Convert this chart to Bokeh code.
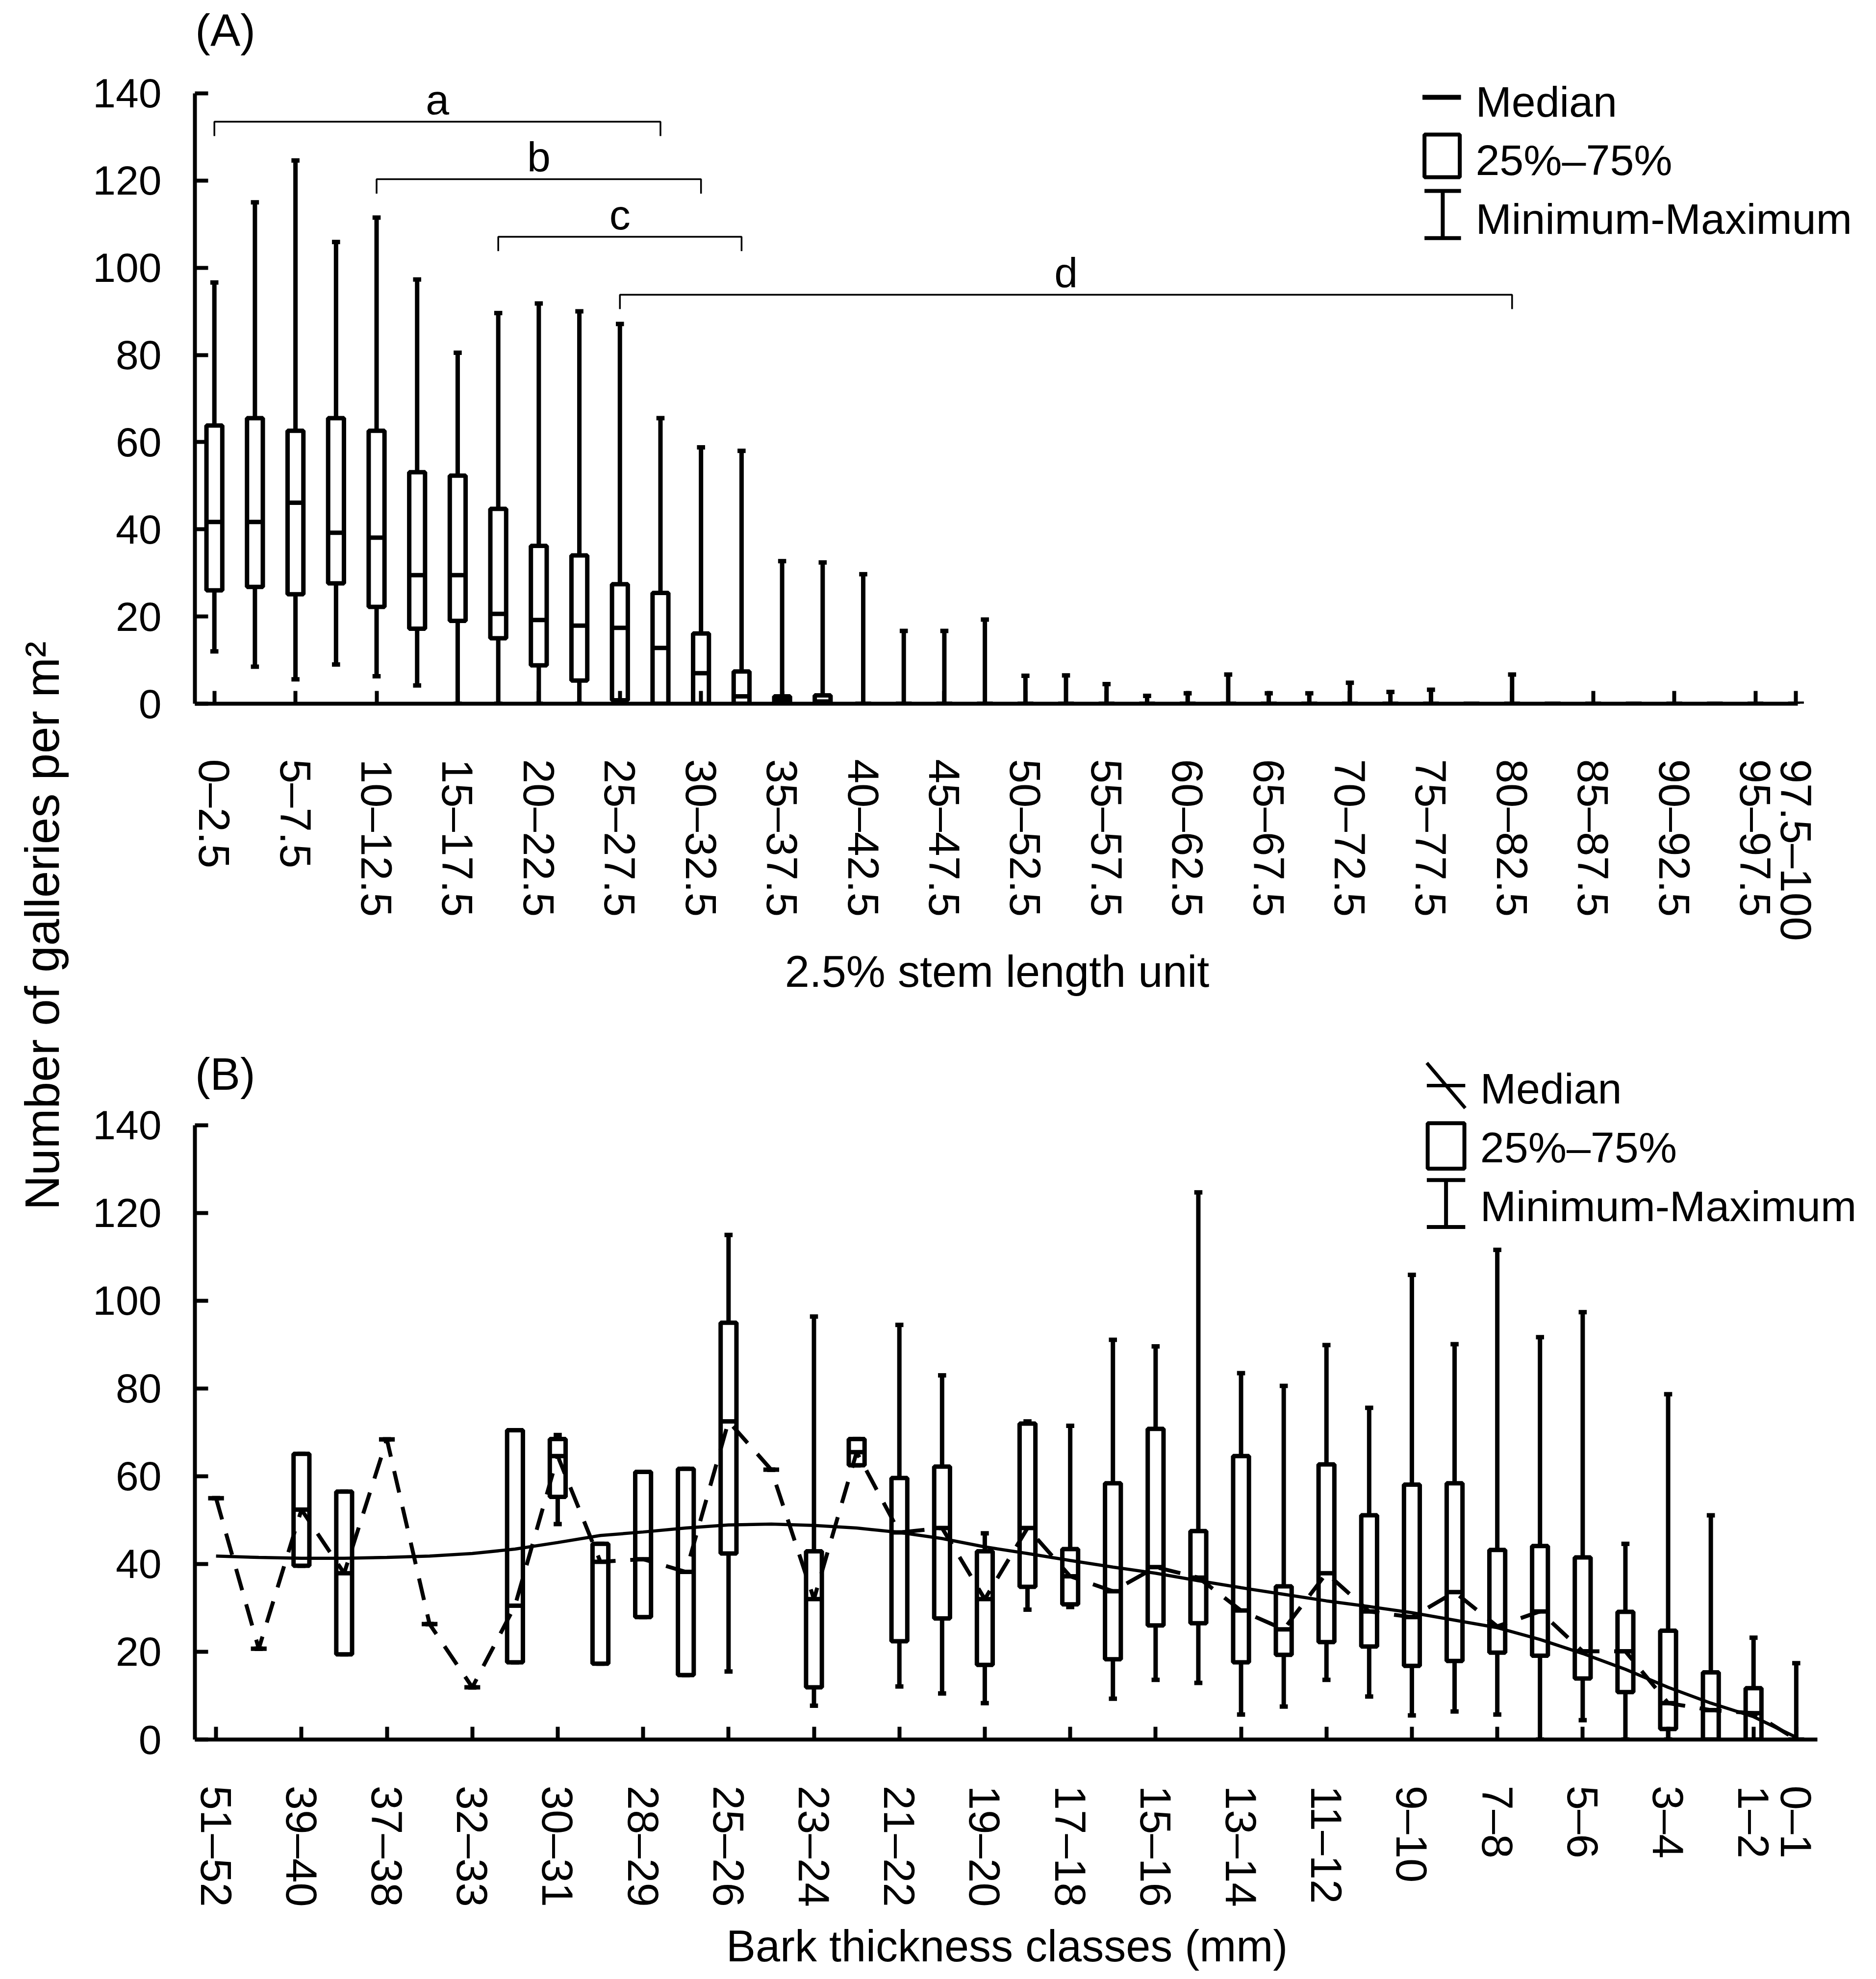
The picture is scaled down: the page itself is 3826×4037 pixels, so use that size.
from math import pi
from bokeh.plotting import figure
from bokeh.models import FixedTicker, Label, Range1d
from bokeh.layouts import row, column
from bokeh.embed import file_html
from bokeh.resources import INLINE
from bokeh.core.properties import value

FONT = "Liberation Sans"

# ---------------- Panel A data: 2.5% stem length units ----------------
stem_units = ["0–2.5", "2.5–5", "5–7.5", "7.5–10", "10–12.5", "12.5–15", "15–17.5", "17.5–20",
              "20–22.5", "22.5–25", "25–27.5", "27.5–30", "30–32.5", "32.5–35", "35–37.5", "37.5–40",
              "40–42.5", "42.5–45", "45–47.5", "47.5–50", "50–52.5", "52.5–55", "55–57.5", "57.5–60",
              "60–62.5", "62.5–65", "65–67.5", "67.5–70", "70–72.5", "72.5–75", "75–77.5", "77.5–80",
              "80–82.5", "82.5–85", "85–87.5", "87.5–90", "90–92.5", "92.5–95", "95–97.5", "97.5–100"]
stem_max = [96.6, 115.0, 124.6, 105.9, 111.5, 97.3, 80.5, 89.6, 91.8, 90.0,
            87.1, 65.5, 58.8, 58.0, 32.7, 32.4, 29.7, 16.7, 16.7, 19.3,
            6.4, 6.5, 4.5, 1.8, 2.4, 6.7, 2.4, 2.4, 4.8, 2.7,
            3.2, 0.0, 6.7, 0.0, 0.0, 0.0, 0.0, 0.0, 0.0, 0.0]
stem_q3 = [63.8, 65.5, 62.6, 65.5, 62.6, 53.1, 52.3, 44.7, 36.2, 34.0,
           27.4, 25.4, 16.1, 7.4, 1.7, 1.9, 0, 0, 0, 0,
           0, 0, 0, 0, 0, 0, 0, 0, 0, 0, 0, 0, 0, 0, 0, 0, 0, 0, 0, 0]
stem_med = [41.7, 41.7, 46.1, 39.2, 38.1, 29.5, 29.5, 20.6, 19.2, 17.9,
            17.4, 12.8, 7.0, 1.7, 0.7, 0.5, 0, 0, 0, 0,
            0, 0, 0, 0, 0, 0, 0, 0, 0, 0, 0, 0, 0, 0, 0, 0, 0, 0, 0, 0]
stem_q1 = [26.0, 26.8, 25.1, 27.6, 22.2, 17.2, 19.0, 15.0, 8.8, 5.3,
           0.8, 0, 0, 0, 0, 0, 0, 0, 0, 0,
           0, 0, 0, 0, 0, 0, 0, 0, 0, 0, 0, 0, 0, 0, 0, 0, 0, 0, 0, 0]
stem_min = [12.0, 8.5, 5.6, 9.0, 6.3, 4.2, 0, 0, 0, 0,
            0, 0, 0, 0, 0, 0, 0, 0, 0, 0,
            0, 0, 0, 0, 0, 0, 0, 0, 0, 0, 0, 0, 0, 0, 0, 0, 0, 0, 0, 0]

bracket_labels = ["a", "b", "c", "d"]
bracket_start = [0, 4, 7, 10]
bracket_end = [11, 12, 13, 32]
bracket_level = [133.5, 120.3, 107.1, 93.8]

# ---------------- Panel B data: bark thickness classes ----------------
bark_classes = ["51–52", "40–41", "39–40", "38–39", "37–38", "33–34", "32–33", "31–32",
                "30–31", "29–30", "28–29", "26–27", "25–26", "24–25", "23–24", "22–23",
                "21–22", "20–21", "19–20", "18–19", "17–18", "16–17", "15–16", "14–15",
                "13–14", "12–13", "11–12", "10–11", "9–10", "8–9", "7–8", "6–7",
                "5–6", "4–5", "3–4", "2–3", "1–2", "0–1"]
bark_max = [55.0, 20.7, 65.1, 56.5, 68.4, 26.3, 11.9, 70.5, 69.4, 44.6,
            61.0, 61.7, 115.0, 61.5, 96.4, 68.5, 94.5, 83.0, 47.0, 72.5,
            71.5, 91.1, 89.6, 124.7, 83.5, 80.6, 89.9, 75.6, 105.9, 90.1,
            111.6, 91.7, 97.4, 44.6, 78.7, 51.1, 23.2, 17.4]
bark_q3 = [55.0, 20.7, 65.1, 56.5, 68.4, 26.3, 11.9, 70.5, 68.5, 44.6,
           61.0, 61.7, 95.0, 61.5, 42.9, 68.5, 59.6, 62.2, 42.9, 72.0,
           43.4, 58.4, 70.8, 47.5, 64.6, 34.9, 62.7, 51.1, 58.1, 58.4,
           43.2, 44.1, 41.5, 29.1, 24.8, 15.3, 11.7, 0.0]
bark_med = [55.0, 20.7, 52.4, 37.9, 68.4, 26.3, 11.9, 30.5, 64.6, 40.5,
            41.1, 38.2, 72.5, 61.5, 32.0, 65.5, 47.2, 48.2, 32.0, 48.2,
            37.2, 33.8, 39.3, 36.9, 29.4, 25.1, 37.9, 29.2, 27.9, 33.6,
            25.8, 29.2, 20.1, 20.1, 8.3, 6.7, 6.0, 0.0]
bark_q1 = [55.0, 20.7, 39.6, 19.4, 68.4, 26.3, 11.9, 17.6, 55.3, 17.3,
           27.9, 14.7, 42.4, 61.5, 11.9, 62.5, 22.4, 27.6, 17.0, 34.8,
           30.8, 18.3, 26.0, 26.5, 17.6, 19.3, 22.2, 21.2, 16.8, 17.9,
           19.8, 19.1, 13.9, 10.8, 2.4, 0.0, 0.0, 0.0]
bark_min = [55.0, 20.7, 39.6, 19.4, 68.4, 26.3, 11.9, 17.6, 49.1, 17.3,
            27.9, 14.7, 15.5, 61.5, 7.7, 62.5, 12.1, 10.5, 8.3, 29.6,
            30.2, 9.3, 13.6, 12.9, 5.7, 7.5, 13.6, 9.8, 5.5, 6.4,
            5.7, 0.0, 4.4, 0.0, 0.0, 0.0, 0.0, 0.0]
bark_trend = [41.8, 41.5, 41.3, 41.3, 41.5, 41.8, 42.4, 43.4, 44.9, 46.5,
              47.3, 48.2, 48.9, 49.1, 48.8, 48.2, 47.2, 45.8, 43.9, 42.4,
              40.8, 39.3, 37.9, 36.2, 34.6, 33.1, 31.6, 30.3, 28.9, 27.2,
              25.5, 22.8, 19.6, 16.0, 11.9, 8.3, 5.2, 0.5]

y_ticks = [0, 20, 40, 60, 80, 100, 120, 140]

LW = 9
FRAME_W = 3410
LEFT_B = 247


def base_fig(x_start, x_end, y_end, frame_h, b_top, b_bottom):
    p = figure(frame_width=FRAME_W, frame_height=frame_h,
               min_border_left=LEFT_B, min_border_right=0,
               min_border_top=b_top, min_border_bottom=b_bottom,
               x_range=Range1d(x_start, x_end), y_range=Range1d(0, y_end),
               output_backend="svg", toolbar_location=None, tools="")
    p.outline_line_color = None
    p.grid.visible = False
    p.background_fill_color = "white"
    p.border_fill_color = "white"
    ya = p.yaxis[0]
    ya.ticker = FixedTicker(ticks=y_ticks)
    ya.bounds = (0, 140)
    ya.axis_line_width = 8
    ya.major_tick_line_width = 8
    ya.major_tick_in = 27
    ya.major_tick_out = 0
    ya.minor_tick_line_color = None
    ya.major_label_text_font = FONT
    ya.major_label_text_font_size = "84px"
    ya.major_label_text_color = "black"
    ya.major_label_standoff = 68
    xa = p.xaxis[0]
    xa.axis_line_width = 8
    xa.major_tick_line_width = 8
    xa.major_tick_in = 26
    xa.major_tick_out = 0
    xa.minor_tick_line_color = None
    xa.major_label_text_font = FONT
    xa.major_label_text_font_size = "89px"
    xa.major_label_text_color = "black"
    xa.major_label_orientation = "vertical"
    return p


def text_fig(w, h, left=0):
    p = figure(frame_width=w, frame_height=h, min_border=0, min_border_left=left,
               x_range=Range1d(0, w), y_range=Range1d(0, h),
               x_axis_location=None, y_axis_location=None,
               output_backend="svg", toolbar_location=None, tools="")
    p.outline_line_color = None
    p.grid.visible = False
    p.background_fill_color = "white"
    p.border_fill_color = "white"
    return p


def draw_boxes(p, mx, q3, med, q1, mn, bw, cw):
    xs = list(range(len(med)))
    p.segment(x0=xs, y0=mn, x1=xs, y1=q1, line_width=LW, line_color="black")
    p.segment(x0=xs, y0=q3, x1=xs, y1=mx, line_width=LW, line_color="black")
    p.segment(x0=[x - cw / 2 for x in xs], y0=mx, x1=[x + cw / 2 for x in xs], y1=mx,
              line_width=9, line_color="black")
    p.segment(x0=[x - cw / 2 for x in xs], y0=mn, x1=[x + cw / 2 for x in xs], y1=mn,
              line_width=9, line_color="black")
    bx = [x for x in xs if q3[x] > q1[x]]
    p.quad(left=[x - bw / 2 for x in bx], right=[x + bw / 2 for x in bx],
           top=[q3[x] for x in bx], bottom=[q1[x] for x in bx],
           fill_color="white", line_color="black", line_width=LW)
    p.segment(x0=[x - bw / 2 for x in xs], y0=med, x1=[x + bw / 2 for x in xs], y1=med,
              line_width=LW, line_color="black")


# ======================= Panel A =======================
pa = base_fig(-0.48, 40.75, 160.9, 1431, 4, 487)
xa = pa.xaxis[0]
a_ticks = list(range(0, 40, 2)) + [39]
xa.ticker = FixedTicker(ticks=a_ticks)
xa.major_label_overrides = {t: stem_units[t] for t in a_ticks}
xa.bounds = (-0.48, 39.05)
xa.major_label_standoff = 113

draw_boxes(pa, stem_max, stem_q3, stem_med, stem_q1, stem_min, 0.39, 0.2)

for lab, s, e, lv in zip(bracket_labels, bracket_start, bracket_end, bracket_level):
    pa.line(x=[s, s, e, e], y=[lv - 3.3, lv, lv, lv - 3.3], line_width=3.5, line_color="black")
pa.text(x=[(s + e) / 2 for s, e in zip(bracket_start, bracket_end)],
        y=[lv + 5.1 for lv in bracket_level], text=bracket_labels,
        text_font=value(FONT), text_font_size=value("86px"), text_color="black",
        text_align="center", text_baseline="alphabetic")

pa.segment(x0=[29.79], y0=[139.1], x1=[30.74], y1=[139.1], line_width=10, line_color="black")
pa.quad(left=[29.84], right=[30.71], top=[130.55], bottom=[120.77],
        fill_color="white", line_color="black", line_width=8)
pa.segment(x0=[30.29, 29.84, 29.84], y0=[117.6, 117.6, 106.8],
           x1=[30.29, 30.74, 30.74], y1=[106.8, 117.6, 106.8], line_width=8, line_color="black")
pa.text(x=[31.1, 31.1, 31.1], y=[138.1, 124.7, 111.2],
        text=["Median", "25%–75%", "Minimum-Maximum"],
        text_font=value(FONT), text_font_size=value("88px"), text_color="black",
        text_align="left", text_baseline="alphabetic")

pa.add_layout(Label(x=-0.47, y=154.4, text="(A)", text_font=FONT, text_font_size="92px",
                    text_align="left", text_baseline="middle", text_color="black"))

# x-axis title A (own strip, frame aligned with the panel frame)
ta = text_fig(FRAME_W, 170, LEFT_B)
ta.text(x=[2041 - 405], y=[111], text=["2.5% stem length unit"],
        text_font=value(FONT), text_font_size=value("90px"), text_color="black",
        text_align="center", text_baseline="alphabetic")

# ======================= Panel B =======================
pb = base_fig(-0.495, 38.655, 158.2, 1416, 40, 360)
xb = pb.xaxis[0]
b_ticks = list(range(0, 38, 2)) + [37]
xb.ticker = FixedTicker(ticks=b_ticks)
xb.major_label_overrides = {t: bark_classes[t] for t in b_ticks}
xb.bounds = (-0.495, 37.5)
xb.major_label_standoff = 94

draw_boxes(pb, bark_max, bark_q3, bark_med, bark_q1, bark_min, 0.37, 0.19)
bxs = list(range(len(bark_med)))
pb.line(x=bxs, y=bark_med, line_width=8, line_color="black", line_dash="45 30")
pb.line(x=bxs, y=bark_trend, line_width=6.5, line_color="black")

pb.segment(x0=[28.35, 28.35], y0=[154.2, 149.05], x1=[29.25, 29.25], y1=[143.9, 149.05],
           line_width=7, line_color="black")
pb.quad(left=[28.37], right=[29.23], top=[140.45], bottom=[130.1],
        fill_color="white", line_color="black", line_width=8)
pb.segment(x0=[28.80, 28.35, 28.35], y0=[127.5, 127.5, 116.8],
           x1=[28.80, 29.25, 29.25], y1=[116.8, 127.5, 116.8], line_width=8, line_color="black")
pb.text(x=[29.6, 29.6, 29.6], y=[148.4, 135.0, 121.6],
        text=["Median", "25%–75%", "Minimum-Maximum"],
        text_font=value(FONT), text_font_size=value("88px"), text_color="black",
        text_align="left", text_baseline="alphabetic")

pb.add_layout(Label(x=-0.49, y=151.7, text="(B)", text_font=FONT, text_font_size="92px",
                    text_align="left", text_baseline="middle", text_color="black"))

# x-axis title B (own strip, frame aligned with the panel frame)
TB_H = 113
tb = text_fig(FRAME_W, TB_H, LEFT_B)
tb.text(x=[2061 - 405], y=[52], text=["Bark thickness classes (mm)"],
        text_font=value(FONT), text_font_size=value("90px"), text_color="black",
        text_align="center", text_baseline="alphabetic")

# ======================= shared y-axis title =======================
TOTAL_H = 1922 + 170 + (40 + 1416 + 360) + TB_H
pt = text_fig(150, TOTAL_H)
pt.text(x=[85], y=[TOTAL_H - (1896 - 8)], text=["Number of galleries per m²"], angle=pi / 2,
        text_font=value(FONT), text_font_size=value("98px"), text_color="black",
        text_align="center", text_baseline="alphabetic")

layout = row(pt, column(pa, ta, pb, tb))
open("out.html", "w").write(file_html(layout, INLINE))
